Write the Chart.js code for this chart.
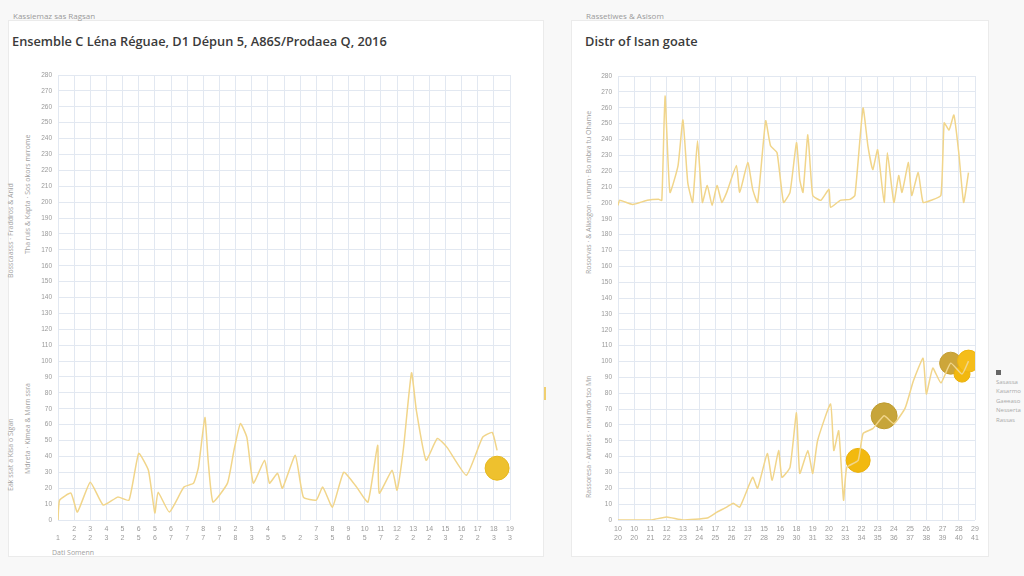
<!DOCTYPE html>
<html>
<head>
<meta charset="utf-8">
<script src="https://cdn.jsdelivr.net/npm/chart.js@4/dist/chart.umd.min.js"></script>
<style>
  html, body { margin: 0; padding: 0; }
  body { width: 1024px; height: 576px; background: #f8f8f8; position: relative; overflow: hidden;
         font-family: "Open Sans", "Noto Sans", sans-serif; }
  .card { position: absolute; background: #fff; border: 1px solid #ebebeb; }
  .sub { position: absolute; font-size: 8px; color: #9a9a9a; }
  .title { position: absolute; font-size: 12.8px; color: #3a3a3a; font-weight: 600; white-space: nowrap; }
  .ytitle { position: absolute; font-size: 7px; color: #a0a0a0; white-space: nowrap;
            transform: rotate(-90deg); transform-origin: left top; }
  .foot { position: absolute; font-size: 7px; color: #a0a0a0; }
  canvas { position: absolute; }
  .legend { position: absolute; left: 996px; top: 368px; font-size: 6px; color: #aaa; line-height: 9.5px; }
  .legend .sw { display: inline-block; width: 5px; height: 5px; background: #666; margin-right: 2px; vertical-align: middle; }
</style>
</head>
<body>
<div class="card" style="left:8px;top:20px;width:534px;height:535px;"></div>
<div class="card" style="left:571px;top:20px;width:416px;height:535px;"></div>

<div class="sub" style="left:13px;top:10px;">Kassiemaz sas Ragsan</div>
<div class="title" style="left:12px;top:32px;">Ensemble C Léna Réguae, D1 Dépun 5, A86S/Prodaea Q, 2016</div>
<div class="sub" style="left:586px;top:10px;">Rassetiwes &amp; Asisom</div>
<div class="title" style="left:585px;top:32px;">Distr of Isan goate</div>

<div class="ytitle" style="left:6px;top:278px;">Bosscaasss · Fraddros & Anid</div>
<div class="ytitle" style="left:23px;top:254px;">Tha ruls & Kapta · Sos okors mrrome</div>
<div class="ytitle" style="left:6px;top:491px;">Eak ssat a Kisa o Sigan</div>
<div class="ytitle" style="left:23px;top:474px;">Mdreta · Kimea & Marn ssra</div>
<div class="ytitle" style="left:584px;top:274px;">Rosorvas · & Aliasgon · rumm · Bo mbra tu Ohame</div>
<div class="ytitle" style="left:584px;top:498px;">Rassoresa · Annisas · mai mdo tso Mn</div>

<div class="foot" style="left:52px;top:548px;">Dati Somenn</div>
<div style="position:absolute;left:544px;top:387px;width:2px;height:13px;background:#f0cf70;"></div>

<div class="legend"><span class="sw"></span>Sasassa<br>Kasarmo<br>Gaeeaso<br>Nesserta<br>Rassas</div>

<canvas id="left" width="500" height="490" style="left:30px;top:62px;width:500px;height:490px;"></canvas>
<canvas id="right" width="400" height="490" style="left:590px;top:62px;width:400px;height:490px;"></canvas>

<script>
// ---- data ----
const yTicks = [0, 10, 20, 30, 40, 50, 60, 70, 80, 90, 100, 110, 120, 130, 140, 150, 160, 170, 180, 190, 200, 210, 220, 230, 240, 250, 260, 270, 280];

const leftTop = ['', '2', '3', '4', '5', '6', '5', '6', '7', '8', '9', '2', '3', '4', '', '', '7', '8', '9', '10', '11', '12', '13', '14', '15', '16', '17', '18', '19'];
const leftBottom = ['1', '2', '2', '3', '2', '5', '6', '7', '7', '7', '7', '8', '3', '5', '5', '2', '3', '5', '6', '5', '7', '2', '2', '2', '3', '2', '2', '3', '3'];
const rightTop = ['10', '10', '11', '12', '13', '14', '17', '12', '13', '15', '16', '18', '19', '20', '21', '22', '23', '24', '25', '26', '27', '28', '29'];
const rightBottom = ['20', '20', '21', '22', '23', '24', '25', '26', '27', '28', '29', '30', '31', '32', '33', '34', '35', '36', '37', '38', '39', '40', '41'];

const leftX = [0, 0.1, 0.8, 1.2, 2.0, 2.8, 3.7, 4.4, 5.0, 5.6, 6.0, 6.2, 6.9, 7.8, 8.4, 8.7, 9.1, 9.3, 9.6, 10.5, 10.9, 11.3, 11.7, 12.1, 12.8, 13.1, 13.6, 13.9, 14.7, 15.2, 16.0, 16.4, 17.0, 17.7, 18.5, 19.2, 19.8, 19.9, 20.7, 21.0, 21.4, 21.9, 22.2, 22.8, 23.5, 24.1, 25.3, 26.3, 26.9, 27.2];
const leftY = [0, 12.5, 16.9, 5, 23.8, 9.4, 14.4, 12.5, 41.9, 31.3, 4.4, 17.5, 5, 20.7, 23.2, 33.2, 64.5, 37.6, 11.3, 23.2, 43.8, 60.7, 52, 23.2, 37.6, 23.2, 29.4, 20, 40.7, 14.4, 12.5, 20.7, 8.1, 30, 20.7, 11.3, 47, 16.9, 31.3, 18.8, 45, 92.6, 68.9, 37.6, 51.3, 45.7, 28.2, 52, 55.1, 43.8];
const leftDotX = [27.2];
const leftDotY = [32.6];

const upperX = [0, 0.1, 0.9, 1.8, 2.5, 2.7, 2.9, 3.2, 3.7, 4.0, 4.3, 4.6, 4.9, 5.2, 5.5, 5.8, 6.1, 6.4, 6.7, 7.3, 7.5, 8.0, 8.3, 8.6, 9.1, 9.4, 9.8, 10.2, 10.6, 11.0, 11.2, 11.4, 11.7, 12.0, 12.5, 13.0, 13.1, 13.7, 14.3, 14.6, 15.1, 15.4, 15.7, 16.0, 16.4, 16.6, 17.0, 17.3, 17.5, 17.9, 18.1, 18.5, 18.8, 19.3, 19.9, 20.1, 20.4, 20.7, 21.0, 21.3, 21.6];
const upperY = [198.4, 201.6, 199, 201.6, 202.2, 201.6, 267.3, 206.6, 223.5, 252.3, 212.8, 200.3, 239.1, 200.3, 211, 198.4, 211, 200.3, 206.6, 223.5, 206.6, 225.4, 208.5, 200.3, 251.7, 236, 231.6, 200.3, 206.6, 237.9, 214.7, 206.6, 242.9, 204.7, 201.6, 208.5, 197.2, 201.6, 202.2, 204.7, 259.8, 236, 221, 233.5, 200.3, 231.6, 200.3, 217.2, 206.6, 225.4, 204.7, 219.1, 200.3, 201.6, 204.7, 250.4, 246, 255.4, 231.6, 200.3, 219.1];

const lowerX = [0, 2.0, 3.0, 4.0, 5.5, 6.1, 6.7, 7.1, 7.5, 8.3, 8.6, 9.2, 9.5, 9.9, 10.1, 10.6, 11.0, 11.2, 11.7, 12.0, 12.3, 13.1, 13.3, 13.6, 13.9, 14.1, 14.8, 15.1, 15.7, 16.4, 17.0, 17.7, 18.2, 18.8, 19.0, 19.4, 19.9, 20.5, 21.2, 21.6];
const lowerY = [0, 0, 1.9, 0, 1.3, 5, 8.1, 10.6, 8.1, 26.9, 20, 41.9, 25, 43.8, 26.9, 33.2, 67.6, 29.4, 43.8, 29.4, 50.1, 73.2, 43.8, 56.3, 12.5, 33.2, 37.6, 54.5, 57.6, 65.7, 60.7, 70.7, 87.6, 102, 79.5, 95.8, 86.4, 98.9, 92, 100.2];
const rightDotX = [14.8, 16.4, 20.5, 21.2, 21.6];
const rightDotY = [37.6, 65.7, 98.9, 92, 100.2];

// ---- helpers ----
const toPoints = (xs, ys) => xs.map((x, i) => ({ x: x, y: ys[i] }));
const lineColor = '#f1d58a';
const gridColor = '#e2e8f1';
const tickColor = '#9a9a9a';

function makeOptions(xMax, topRow, bottomRow, padRight) {
    return {
        responsive: false,
        animation: false,
        layout: { padding: { top: 11, right: padRight, left: 0, bottom: 0 } },
        plugins: { legend: { display: false }, tooltip: { enabled: false } },
        scales: {
            x: {
                type: 'linear',
                min: 0,
                max: xMax,
                afterFit: (s) => { s.height = 32; },
                grid: { color: gridColor, drawTicks: false },
                border: { display: false },
                ticks: {
                    stepSize: 1,
                    padding: 5,
                    color: tickColor,
                    font: { size: 7 },
                    maxRotation: 0,
                    autoSkip: false,
                    callback: (v) => [topRow[v] || '', bottomRow[v] || '']
                }
            },
            y: {
                min: 0,
                max: 280,
                afterFit: (s) => { s.width = 28; },
                grid: { color: gridColor, drawTicks: false },
                border: { display: false },
                afterBuildTicks: (s) => { s.ticks = yTicks.map(v => ({ value: v })); },
                ticks: { padding: 6, color: tickColor, font: { size: 6.5 } }
            }
        }
    };
}

function lineSet(xs, ys) {
    return {
        type: 'line',
        data: toPoints(xs, ys),
        borderColor: lineColor,
        borderWidth: 1.5,
        pointRadius: 0,
        tension: 0.15,
        fill: false
    };
}

new Chart(document.getElementById('left').getContext('2d'), {
    type: 'scatter',
    data: {
        datasets: [
            lineSet(leftX, leftY),
            {
                type: 'scatter',
                data: toPoints(leftDotX, leftDotY),
                backgroundColor: '#eec12e',
                borderColor: '#e6b820',
                pointRadius: 12
            }
        ]
    },
    options: makeOptions(28, leftTop, leftBottom, 20)
});

new Chart(document.getElementById('right').getContext('2d'), {
    type: 'scatter',
    data: {
        datasets: [
            lineSet(upperX, upperY),
            lineSet(lowerX, lowerY),
            {
                type: 'scatter',
                data: toPoints(rightDotX, rightDotY),
                backgroundColor: ['#f2b90f', '#c7a53a', '#cda63a', '#f2b80f', '#f5bd1a'],
                borderColor: ['#eab00a', '#bf9c30', '#c49d32', '#eab00a', '#eeb40f'],
                pointRadius: [12, 13, 11, 8, 11]
            }
        ]
    },
    options: makeOptions(22, rightTop, rightBottom, 15)
});
</script>
</body>
</html>
